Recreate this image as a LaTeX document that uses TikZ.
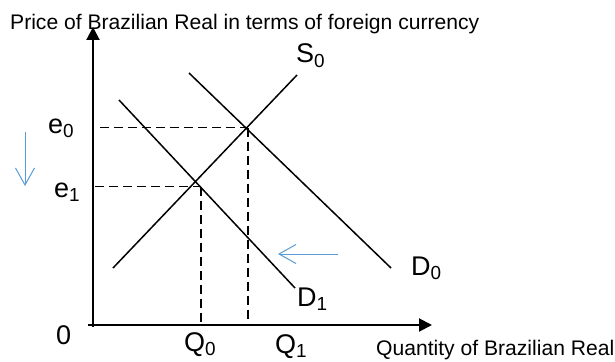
\documentclass[tikz,border=0pt]{standalone}
\usepackage{fontspec}
\setmainfont{Liberation Sans}
\usetikzlibrary{arrows.meta}
\definecolor{shiftblue}{RGB}{91,155,213}
\begin{document}
\begin{tikzpicture}[x=1pt,y=-1pt,
  axisline/.style={line width=2pt,-{Triangle[length=13pt,width=13pt]}},
  curve/.style={line width=1.5pt},
  guide/.style={line width=1.5pt,dash pattern=on 9pt off 5pt},
  shiftarrow/.style={shiftblue,line width=1pt,-{Straight Barb[length=17pt,width=19pt]}},
  axtitle/.style={font=\fontsize{21.1}{24}\selectfont,inner sep=0pt,anchor=base west},
  lab/.style={font=\fontsize{27}{30}\selectfont,inner sep=0pt,anchor=base west}]
\useasboundingbox (0,0) rectangle (615,361);
% axes
\coordinate (yb) at (93,327);
\coordinate (yt) at (93,27);
\coordinate (xl) at (88,325);
\coordinate (xr) at (432,325);
\draw[axisline] (yb) -- (yt);
\draw[axisline] (xl) -- (xr);
% curves
\coordinate (s0a) at (113,268);
\coordinate (s0b) at (297,75);
\coordinate (d0a) at (189,73);
\coordinate (d0b) at (391,268);
\coordinate (d1a) at (119,100);
\coordinate (d1b) at (295,288);
\draw[curve] (s0a) -- (s0b);
\draw[curve] (d0a) -- (d0b);
\draw[curve] (d1a) -- (d1b);
% guides
\coordinate (e0l) at (100,127.5);
\coordinate (e0r) at (247,127.5);
\coordinate (q1b) at (248,325);
\coordinate (e1l) at (95,186.5);
\coordinate (e1r) at (200,186.5);
\coordinate (q0t) at (201,186.5);
\coordinate (q0b) at (201,325);
\draw[guide] (e0l) -- (e0r);
\draw[guide] (e0r -| q1b) -- (q1b);
\draw[guide] (e1l) -- (e1r);
\draw[guide] (q0t) -- (q0b);
% shift arrows
\coordinate (dna) at (25,132);
\coordinate (dnb) at (25,186);
\coordinate (lfa) at (338,254);
\coordinate (lfb) at (278,254);
\draw[shiftarrow] (dna) -- (dnb);
\draw[shiftarrow] (lfa) -- (lfb);
% texts
\node[axtitle] (ytitle) at (10,30) {Price of Brazilian Real in terms of foreign currency};
\node[axtitle] (xtitle) at (376,355) {Quantity of Brazilian Real};
\node[lab] (le0) at (48,133) {e\textsubscript{0}};
\node[lab] (le1) at (54,197) {e\textsubscript{1}};
\node[lab] (lzero) at (56,344) {0};
\node[lab] (lq0) at (184,351) {Q\textsubscript{0}};
\node[lab] (lq1) at (275,353) {Q\textsubscript{1}};
\node[lab] (ld1) at (297,306) {D\textsubscript{1}};
\node[lab] (ld0) at (411,275) {D\textsubscript{0}};
\node[lab] (ls0) at (296,63) {S\textsubscript{0}};
\end{tikzpicture}
\end{document}
